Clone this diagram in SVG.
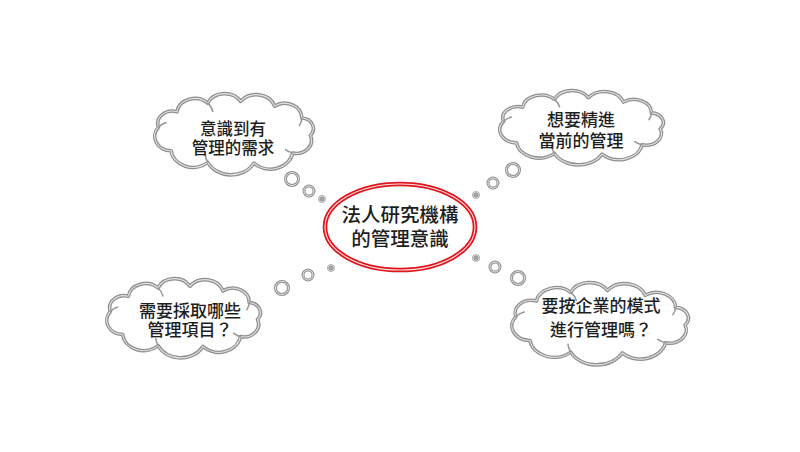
<svg xmlns="http://www.w3.org/2000/svg" width="800" height="452" viewBox="0 0 800 452">
<style>
.co{fill:#fff;stroke:#8f8f8f;stroke-width:3.6;stroke-linejoin:round}
.ci{fill:none;stroke:#e4e4e4;stroke-width:1.1;stroke-linejoin:round}
.cr{fill:none;stroke:#9a9a9a;stroke-width:1.6;stroke-linecap:round}
.t{font-family:"Liberation Sans","Noto Sans CJK TC","Noto Sans CJK SC",sans-serif;font-size:17px;fill:#1e1e1e;text-anchor:middle;font-weight:500}
.tc{font-size:19.5px}
.ro{fill:none;stroke:#8f8f8f;stroke-width:3}
.ri{fill:none;stroke:#e4e4e4;stroke-width:1}
.dot{fill:#a3a3a3;stroke:#8f8f8f;stroke-width:1.5}
.dotr{fill:none;stroke:#e4e4e4;stroke-width:0.8}
</style>

<g id="connectors">
<g id="tail-tl">
<circle cx="292" cy="179" r="6.5" class="ro"/><circle cx="292" cy="179" r="6.5" class="ri"/>
<circle cx="309" cy="191" r="5" class="ro"/><circle cx="309" cy="191" r="5" class="ri"/>
<circle cx="322" cy="199" r="3" class="dot"/><circle cx="322" cy="199" r="3" class="dotr"/>
</g>
<g id="tail-tr">
<circle cx="513" cy="170" r="6.5" class="ro"/><circle cx="513" cy="170" r="6.5" class="ri"/>
<circle cx="493" cy="183" r="5" class="ro"/><circle cx="493" cy="183" r="5" class="ri"/>
<circle cx="476" cy="195" r="3" class="dot"/><circle cx="476" cy="195" r="3" class="dotr"/>
</g>
<g id="tail-br">
<circle cx="518" cy="278" r="6.5" class="ro"/><circle cx="518" cy="278" r="6.5" class="ri"/>
<circle cx="495" cy="267" r="5" class="ro"/><circle cx="495" cy="267" r="5" class="ri"/>
<circle cx="476" cy="258" r="3" class="dot"/><circle cx="476" cy="258" r="3" class="dotr"/>
</g>
<g id="tail-bl">
<circle cx="282" cy="288" r="6.5" class="ro"/><circle cx="282" cy="288" r="6.5" class="ri"/>
<circle cx="308" cy="275" r="5" class="ro"/><circle cx="308" cy="275" r="5" class="ri"/>
<circle cx="331" cy="268" r="3" class="dot"/><circle cx="331" cy="268" r="3" class="dotr"/>
</g>
</g>

<g id="cloud-tl">
<g transform="translate(142.4,91.5) scale(1.145,0.982)">
<path d="M14,36.4 A12.7,12.7 0 0 1 30.2,20.6 A15.8,15.8 0 0 1 57.1,11.9 A16.1,16.1 0 0 1 85.8,10.1 A16.9,16.9 0 0 1 115.5,14.9 A14.9,14.9 0 0 1 139.2,27 A10.8,10.8 0 0 1 146.7,44.8 A13.2,13.2 0 0 1 131.3,62.6 A19.8,19.8 0 0 1 97.4,72.9 A22.6,22.6 0 0 1 57.1,72.1 A19.1,19.1 0 0 1 25.1,60.4 A14.8,14.8 0 0 1 14,36.4 Z" class="co" vector-effect="non-scaling-stroke"/>
<path d="M14,36.4 A12.7,12.7 0 0 1 30.2,20.6 A15.8,15.8 0 0 1 57.1,11.9 A16.1,16.1 0 0 1 85.8,10.1 A16.9,16.9 0 0 1 115.5,14.9 A14.9,14.9 0 0 1 139.2,27 A10.8,10.8 0 0 1 146.7,44.8 A13.2,13.2 0 0 1 131.3,62.6 A19.8,19.8 0 0 1 97.4,72.9 A22.6,22.6 0 0 1 57.1,72.1 A19.1,19.1 0 0 1 25.1,60.4 A14.8,14.8 0 0 1 14,36.4 Z" class="ci" vector-effect="non-scaling-stroke"/>
<path d="M14,36.4 A14.8,14.8 0 0 1 20.5,31.7 M131.3,62.6 A13.2,13.2 0 0 1 125.2,59.1 M57.1,11.9 A15.8,15.8 0 0 1 61.4,20.2 M57.1,72.1 A22.6,22.6 0 0 1 54.9,64.3 M139.2,27 A14.9,14.9 0 0 1 137.2,34.4" class="cr" vector-effect="non-scaling-stroke"/>
</g>
<text class="t" style="font-size:16.5px"><tspan x="233" y="134.5">意識到有</tspan><tspan x="233" y="154">管理的需求</tspan></text>
</g>

<g id="cloud-tr">
<g transform="translate(487,88.65) scale(1.181,0.898)">
<path d="M14,36.4 A12.7,12.7 0 0 1 30.2,20.6 A15.8,15.8 0 0 1 57.1,11.9 A16.1,16.1 0 0 1 85.8,10.1 A16.9,16.9 0 0 1 115.5,14.9 A14.9,14.9 0 0 1 139.2,27 A10.8,10.8 0 0 1 146.7,44.8 A13.2,13.2 0 0 1 131.3,62.6 A19.8,19.8 0 0 1 97.4,72.9 A22.6,22.6 0 0 1 57.1,72.1 A19.1,19.1 0 0 1 25.1,60.4 A14.8,14.8 0 0 1 14,36.4 Z" class="co" vector-effect="non-scaling-stroke"/>
<path d="M14,36.4 A12.7,12.7 0 0 1 30.2,20.6 A15.8,15.8 0 0 1 57.1,11.9 A16.1,16.1 0 0 1 85.8,10.1 A16.9,16.9 0 0 1 115.5,14.9 A14.9,14.9 0 0 1 139.2,27 A10.8,10.8 0 0 1 146.7,44.8 A13.2,13.2 0 0 1 131.3,62.6 A19.8,19.8 0 0 1 97.4,72.9 A22.6,22.6 0 0 1 57.1,72.1 A19.1,19.1 0 0 1 25.1,60.4 A14.8,14.8 0 0 1 14,36.4 Z" class="ci" vector-effect="non-scaling-stroke"/>
<path d="M14,36.4 A14.8,14.8 0 0 1 20.5,31.7 M131.3,62.6 A13.2,13.2 0 0 1 125.2,59.1 M57.1,11.9 A15.8,15.8 0 0 1 61.4,20.2 M57.1,72.1 A22.6,22.6 0 0 1 54.9,64.3 M139.2,27 A14.9,14.9 0 0 1 137.2,34.4" class="cr" vector-effect="non-scaling-stroke"/>
</g>
<text class="t"><tspan x="581" y="125.5">想要精進</tspan><tspan x="581" y="146.5">當前的管理</tspan></text>
</g>

<g id="cloud-bl">
<g transform="translate(94.8,276.6) scale(1.109,0.958)">
<path d="M14,36.4 A12.7,12.7 0 0 1 30.2,20.6 A15.8,15.8 0 0 1 57.1,11.9 A16.1,16.1 0 0 1 85.8,10.1 A16.9,16.9 0 0 1 115.5,14.9 A14.9,14.9 0 0 1 139.2,27 A10.8,10.8 0 0 1 146.7,44.8 A13.2,13.2 0 0 1 131.3,62.6 A19.8,19.8 0 0 1 97.4,72.9 A22.6,22.6 0 0 1 57.1,72.1 A19.1,19.1 0 0 1 25.1,60.4 A14.8,14.8 0 0 1 14,36.4 Z" class="co" vector-effect="non-scaling-stroke"/>
<path d="M14,36.4 A12.7,12.7 0 0 1 30.2,20.6 A15.8,15.8 0 0 1 57.1,11.9 A16.1,16.1 0 0 1 85.8,10.1 A16.9,16.9 0 0 1 115.5,14.9 A14.9,14.9 0 0 1 139.2,27 A10.8,10.8 0 0 1 146.7,44.8 A13.2,13.2 0 0 1 131.3,62.6 A19.8,19.8 0 0 1 97.4,72.9 A22.6,22.6 0 0 1 57.1,72.1 A19.1,19.1 0 0 1 25.1,60.4 A14.8,14.8 0 0 1 14,36.4 Z" class="ci" vector-effect="non-scaling-stroke"/>
<path d="M14,36.4 A14.8,14.8 0 0 1 20.5,31.7 M131.3,62.6 A13.2,13.2 0 0 1 125.2,59.1 M57.1,11.9 A15.8,15.8 0 0 1 61.4,20.2 M57.1,72.1 A22.6,22.6 0 0 1 54.9,64.3 M139.2,27 A14.9,14.9 0 0 1 137.2,34.4" class="cr" vector-effect="non-scaling-stroke"/>
</g>
<text class="t"><tspan x="190" y="316.5">需要採取哪些</tspan><tspan x="190" y="336">管理項目？</tspan></text>
</g>

<g id="cloud-br">
<g transform="translate(498,280.5) scale(1.275,0.994)">
<path d="M14,36.4 A12.7,12.7 0 0 1 30.2,20.6 A15.8,15.8 0 0 1 57.1,11.9 A16.1,16.1 0 0 1 85.8,10.1 A16.9,16.9 0 0 1 115.5,14.9 A14.9,14.9 0 0 1 139.2,27 A10.8,10.8 0 0 1 146.7,44.8 A13.2,13.2 0 0 1 131.3,62.6 A19.8,19.8 0 0 1 97.4,72.9 A22.6,22.6 0 0 1 57.1,72.1 A19.1,19.1 0 0 1 25.1,60.4 A14.8,14.8 0 0 1 14,36.4 Z" class="co" vector-effect="non-scaling-stroke"/>
<path d="M14,36.4 A12.7,12.7 0 0 1 30.2,20.6 A15.8,15.8 0 0 1 57.1,11.9 A16.1,16.1 0 0 1 85.8,10.1 A16.9,16.9 0 0 1 115.5,14.9 A14.9,14.9 0 0 1 139.2,27 A10.8,10.8 0 0 1 146.7,44.8 A13.2,13.2 0 0 1 131.3,62.6 A19.8,19.8 0 0 1 97.4,72.9 A22.6,22.6 0 0 1 57.1,72.1 A19.1,19.1 0 0 1 25.1,60.4 A14.8,14.8 0 0 1 14,36.4 Z" class="ci" vector-effect="non-scaling-stroke"/>
<path d="M14,36.4 A14.8,14.8 0 0 1 20.5,31.7 M131.3,62.6 A13.2,13.2 0 0 1 125.2,59.1 M57.1,11.9 A15.8,15.8 0 0 1 61.4,20.2 M57.1,72.1 A22.6,22.6 0 0 1 54.9,64.3 M139.2,27 A14.9,14.9 0 0 1 137.2,34.4" class="cr" vector-effect="non-scaling-stroke"/>
</g>
<text class="t"><tspan x="601" y="312.3">要按企業的模式</tspan><tspan x="601" y="335.7">進行管理嗎？</tspan></text>
</g>

<g id="center">
<ellipse cx="400" cy="227" rx="75" ry="43" fill="#fff" stroke="#e0161d" stroke-width="4.6"/>
<ellipse cx="400" cy="227" rx="75" ry="43" fill="none" stroke="#fbe3e3" stroke-width="1.1"/>
<text class="t tc"><tspan x="400" y="222.4">法人研究機構</tspan><tspan x="400" y="245.7">的管理意識</tspan></text>
</g>
</svg>
